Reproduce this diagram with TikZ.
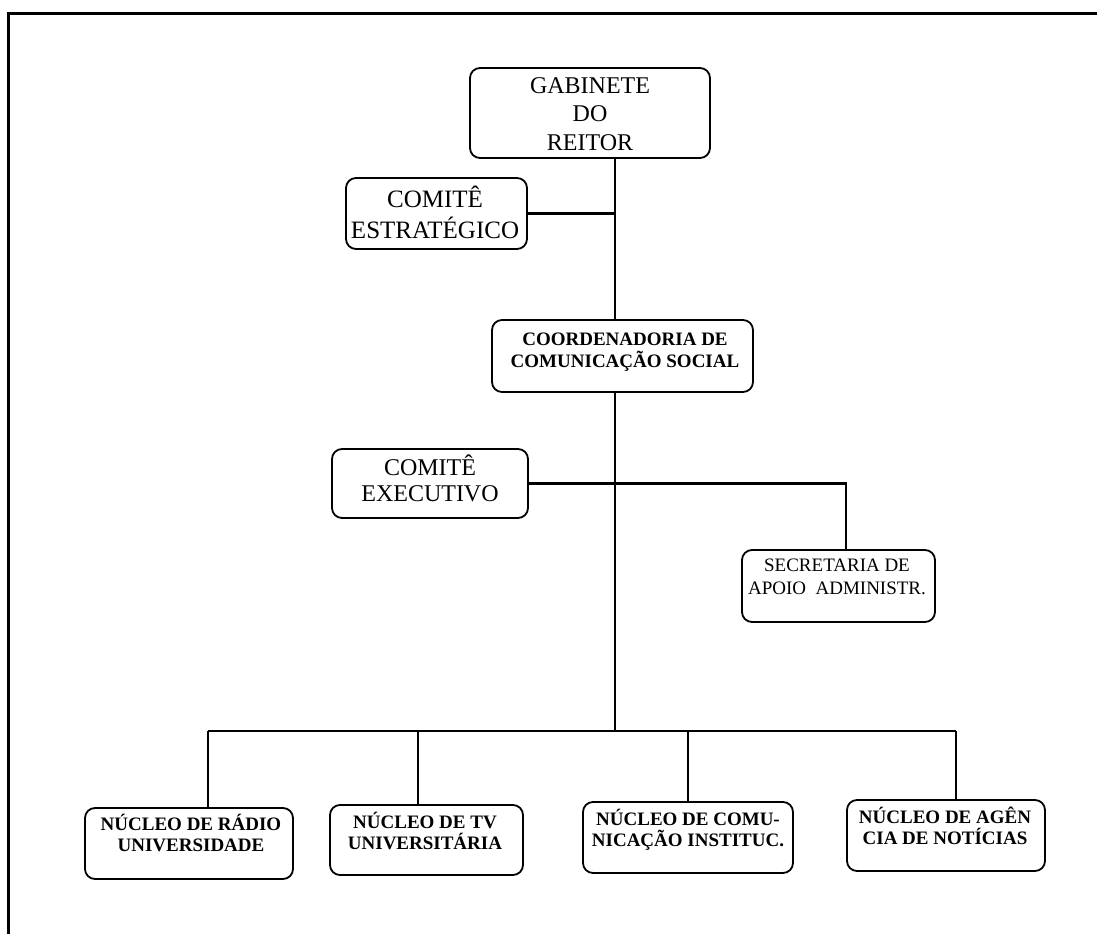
\documentclass[tikz,border=0pt]{standalone}
\usepackage{fontspec}
\setmainfont{Liberation Serif}
\begin{document}
\begin{tikzpicture}[x=1pt,y=-1pt,
  box/.style={draw, rounded corners=10pt, line width=1.8pt, inner sep=0pt},
  conn/.style={line width=2.2pt},
  lbl/.style={inner sep=0pt, align=center, anchor=base},
  big/.style={font=\fontsize{24}{28.5}\selectfont},
  bold19/.style={font=\bfseries\fontsize{19}{21}\selectfont}]
\useasboundingbox (0,0) rectangle (1097,934);
% frame
\coordinate (fbl) at (8,934);
\coordinate (ftl) at (8,14);
\coordinate (ftr) at (1097,14);
\draw[line width=3pt] (fbl) -- (ftl) -- (ftr);
% boxes
\node[box, minimum width=240, minimum height=90] (gab) at (590,113) {};
\node[box, minimum width=181, minimum height=71] (ce) at (436.5,213.5) {};
\node[box, minimum width=261, minimum height=72] (coord) at (622.5,356) {};
\node[box, minimum width=196, minimum height=69] (cx) at (430,483.5) {};
\node[box, minimum width=193, minimum height=72] (sec) at (838.5,586) {};
\node[box, minimum width=208, minimum height=71] (r1) at (189,843.5) {};
\node[box, minimum width=193, minimum height=70] (r2) at (426.5,840) {};
\node[box, minimum width=210, minimum height=71] (r3) at (688,837.5) {};
\node[box, minimum width=198, minimum height=71] (r4) at (946,835.5) {};
% labels (anchor base = last line baseline)
\node[lbl, big] (tgab) at (590,150) {GABINETE\\DO\\REITOR};
\node[lbl, font=\fontsize{25}{31}\selectfont] (tce) at (435,238) {COMITÊ\\ESTRATÉGICO};
\node[lbl, font=\bfseries\fontsize{19}{22}\selectfont] (tcoord) at (625,367) {COORDENADORIA DE\\COMUNICAÇÃO SOCIAL};
\node[lbl, font=\fontsize{24}{26}\selectfont] (tcx) at (430,501) {COMITÊ\\EXECUTIVO};
\node[lbl, font=\fontsize{19}{23}\selectfont] (tsec) at (837,594) {SECRETARIA DE\\APOIO\ \ ADMINISTR.};
\node[lbl, bold19] (tr1) at (191,851) {NÚCLEO DE RÁDIO\\UNIVERSIDADE};
\node[lbl, bold19] (tr2) at (425,849) {NÚCLEO DE TV\\UNIVERSITÁRIA};
\node[lbl, bold19] (tr3) at (688,846) {NÚCLEO DE COMU-\\NICAÇÃO INSTITUC.};
\node[lbl, bold19] (tr4) at (945,844) {NÚCLEO DE AGÊN\\CIA DE NOTÍCIAS};
% connector coordinates
\coordinate (t) at (615,731);
\coordinate (sx) at (846,481);
\coordinate (b1) at (208,731);
\coordinate (b2) at (418,731);
\coordinate (b3) at (688,731);
\coordinate (b4) at (956,731);
% connectors
\draw[conn] (gab.south -| t) -- (coord.north -| t);
\draw[conn] (coord.south -| t) -- (t);
\draw[conn] (ce.east) -- (ce.east -| t);
\draw[conn] (cx.east) -- (cx.east -| sx) -- (sec.north -| sx);
\draw[conn] (b1) -- (b4);
\draw[conn] (b1) -- (r1.north -| b1);
\draw[conn] (b2) -- (r2.north -| b2);
\draw[conn] (b3) -- (r3.north -| b3);
\draw[conn] (b4) -- (r4.north -| b4);
\end{tikzpicture}
\end{document}
